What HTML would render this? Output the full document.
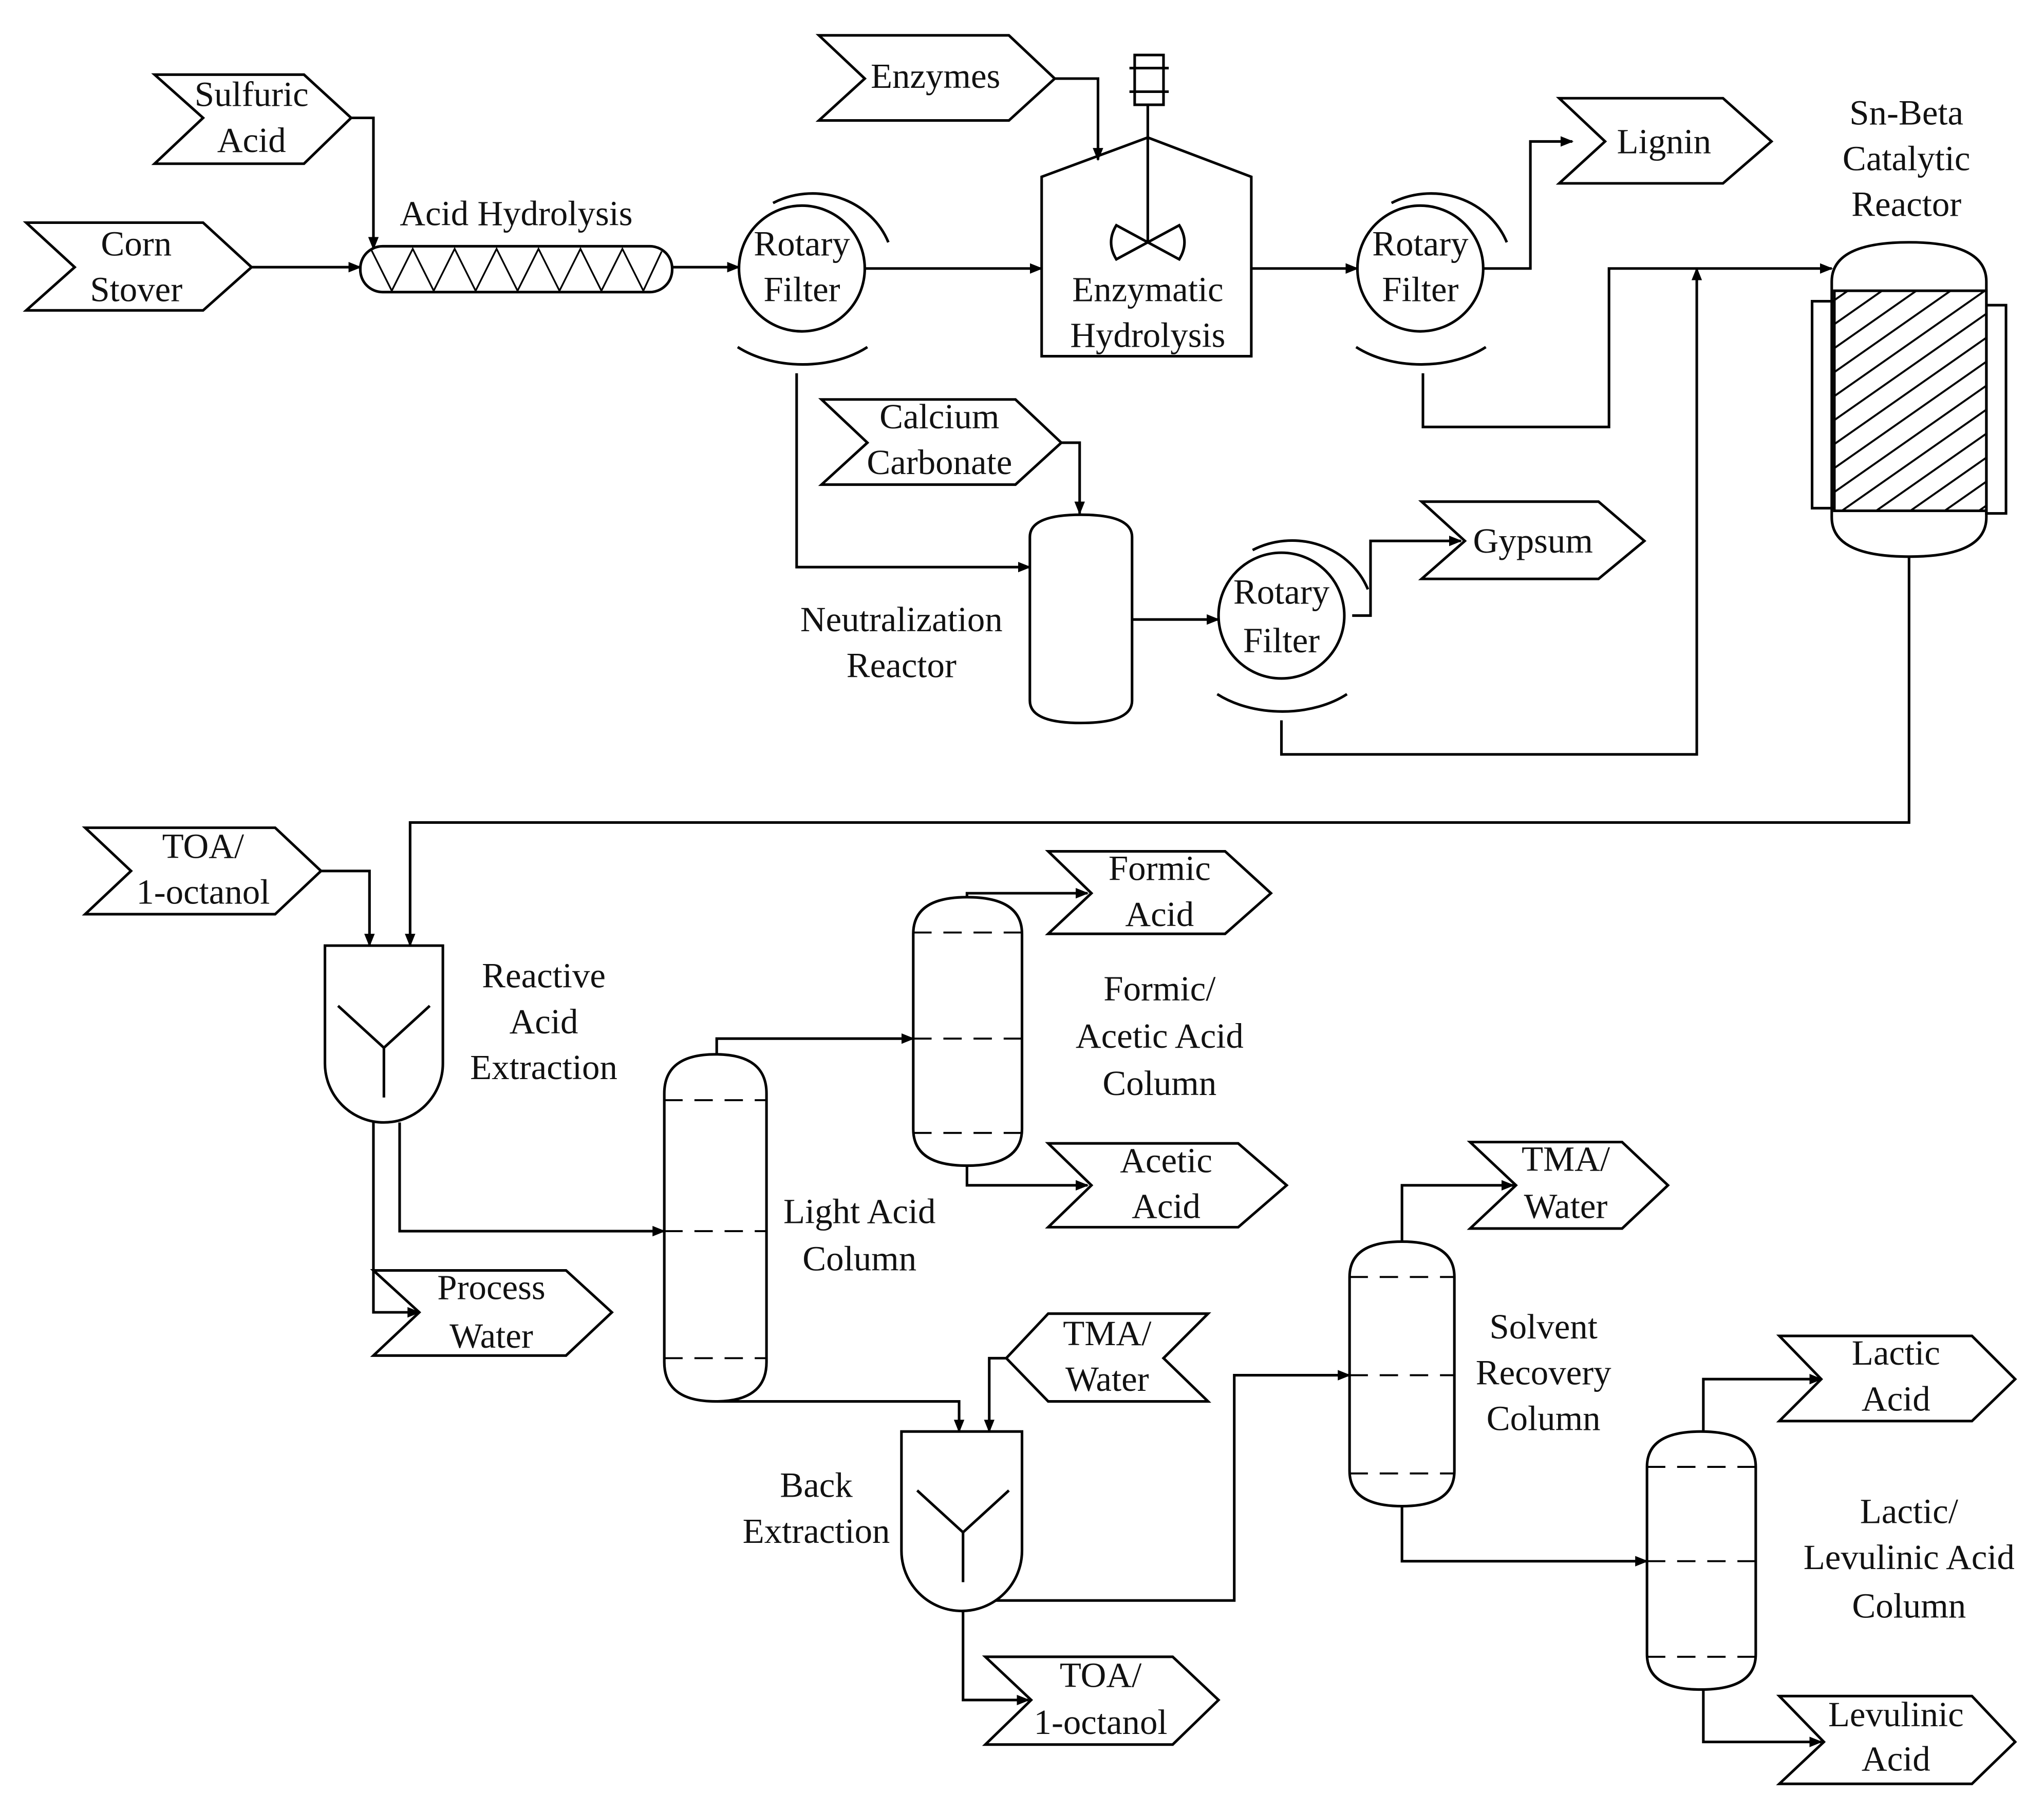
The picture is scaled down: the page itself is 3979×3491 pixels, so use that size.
<!DOCTYPE html>
<html><head><meta charset="utf-8"><style>
html,body{margin:0;padding:0;background:#fff;}
svg{display:block;}
text{font-family:"Liberation Serif",serif;font-size:27px;fill:#111;text-anchor:middle;}
</style></head><body>
<svg width="3979" height="3491" viewBox="0 0 1560 1369" preserveAspectRatio="none" xmlns="http://www.w3.org/2000/svg">
<defs>
<marker id="a" markerWidth="10" markerHeight="10" refX="9" refY="5" orient="auto" markerUnits="userSpaceOnUse">
<path d="M0,1 L10,5 L0,9 Z" fill="#000"/></marker>
<pattern id="h" patternUnits="userSpaceOnUse" width="15" height="15" patternTransform="rotate(-35)">
<rect width="15" height="15" fill="#fff"/><line x1="0" y1="0" x2="15" y2="0" stroke="#000" stroke-width="3"/></pattern>
</defs>
<g fill="none" stroke="#000" stroke-width="2">
<!-- chevrons -->
<polygon points="20,170 155,170 192,204 155,237 20,237 57,204"/>
<polygon points="118,57 232,57 268,90 232,125 118,125 155,90"/>
<polygon points="625,27 770,27 805,60 770,92 625,92 660,60"/>
<polygon points="1190,75 1315,75 1352,108 1315,140 1190,140 1225,108"/>
<polygon points="627,305 775,305 810,338 775,370 627,370 662,338"/>
<polygon points="1085,383 1220,383 1255,413 1220,442 1085,442 1118,413"/>
<polygon points="65,632 210,632 245,665 210,698 65,698 100,665"/>
<polygon points="285,970 432,970 467,1002 432,1035 285,1035 320,1002"/>
<polygon points="800,650 935,650 970,682 935,713 800,713 833,682"/>
<polygon points="800,873 945,873 982,905 945,937 800,937 833,905"/>
<polygon points="800,1003 922,1003 888,1037 922,1070 800,1070 768,1037"/>
<polygon points="752,1265 895,1265 930,1298 895,1332 752,1332 787,1298"/>
<polygon points="1122,872 1238,872 1273,905 1238,938 1122,938 1157,905"/>
<polygon points="1358,1020 1505,1020 1538,1053 1505,1085 1358,1085 1390,1053"/>
<polygon points="1358,1295 1505,1295 1538,1330 1505,1362 1358,1362 1392,1330"/>

<!-- acid hydrolysis screw -->
<rect x="275" y="188" width="238" height="35" rx="17" ry="17"/>
<polyline stroke-width="1.3" points="283,190 299,222 315,190 331,222 347,190 363,222 379,190 395,222 411,190 427,222 443,190 459,222 475,190 491,222 505,192"/>

<!-- rotary filters -->
<circle cx="612" cy="205" r="48"/>
<path d="M590,155 A62,58 0 0 1 678,185"/>
<path d="M563,265 A70,45 0 0 0 662,265"/>
<circle cx="1084" cy="205" r="48"/>
<path d="M1062,155 A62,58 0 0 1 1150,185"/>
<path d="M1035,265 A70,45 0 0 0 1134,265"/>
<circle cx="978" cy="470" r="48"/>
<path d="M956,420 A62,58 0 0 1 1044,450"/>
<path d="M929,530 A70,45 0 0 0 1028,530"/>

<!-- enzymatic tank -->
<polygon points="795,135 876,105 955,135 955,272 795,272"/>
<line x1="876" y1="80" x2="876" y2="185"/>
<rect x="866" y="42" width="22" height="38"/>
<line x1="862" y1="52" x2="892" y2="52"/><line x1="862" y1="70" x2="892" y2="70"/>
<path d="M876,185 L852,172 Q844,185 852,198 Z M876,185 L900,172 Q908,185 900,198 Z"/>

<!-- neutralization reactor -->
<path d="M786,410 Q786,393 825,393 Q864,393 864,410 L864,535 Q864,552 825,552 Q786,552 786,535 Z"/>

<!-- Sn-Beta reactor -->
<rect x="1383" y="230" width="17" height="158"/>
<rect x="1516" y="233" width="15" height="159"/>
<path d="M1398,222 L1398,215 Q1398,185 1457,185 Q1516,185 1516,215 L1516,395 Q1516,425 1457,425 Q1398,425 1398,395 Z"/>
<rect x="1400" y="222" width="116" height="168" fill="url(#h)" stroke-width="2"/>

<!-- extractors -->
<path d="M248,722 L338,722 L338,812 A45,45 0 0 1 248,812 Z"/>
<path d="M293,800 L258,768 M293,800 L328,768 M293,800 L293,838"/>
<path d="M688,1093 L780,1093 L780,1184 A46,46 0 0 1 688,1184 Z"/>
<path d="M735,1170 L700,1138 M735,1170 L770,1138 M735,1170 L735,1208"/>

<!-- columns -->
<path d="M507,835 Q507,805 546,805 Q585,805 585,835 L585,1040 Q585,1070 546,1070 Q507,1070 507,1040 Z"/>
<path d="M697,713 Q697,685 738,685 Q780,685 780,713 L780,862 Q780,890 738,890 Q697,890 697,862 Z"/>
<path d="M1030,975 Q1030,948 1070,948 Q1110,948 1110,975 L1110,1123 Q1110,1150 1070,1150 Q1030,1150 1030,1123 Z"/>
<path d="M1257,1120 Q1257,1093 1298,1093 Q1340,1093 1340,1120 L1340,1263 Q1340,1290 1298,1290 Q1257,1290 1257,1263 Z"/>
<g stroke-width="1.5" stroke-dasharray="14,9">
<line x1="507" y1="840" x2="585" y2="840"/><line x1="507" y1="940" x2="585" y2="940"/><line x1="507" y1="1037" x2="585" y2="1037"/>
<line x1="697" y1="712" x2="780" y2="712"/><line x1="697" y1="793" x2="780" y2="793"/><line x1="697" y1="865" x2="780" y2="865"/>
<line x1="1030" y1="975" x2="1110" y2="975"/><line x1="1030" y1="1050" x2="1110" y2="1050"/><line x1="1030" y1="1125" x2="1110" y2="1125"/>
<line x1="1257" y1="1120" x2="1340" y2="1120"/><line x1="1257" y1="1192" x2="1340" y2="1192"/><line x1="1257" y1="1265" x2="1340" y2="1265"/>
</g>

<!-- streams -->
<g marker-end="url(#a)">
<polyline points="192,204 275,204"/>
<polyline points="268,90 285,90 285,190"/>
<polyline points="513,204 564,204"/>
<polyline points="805,60 838,60 838,122"/>
<polyline points="660,205 795,205"/>
<polyline points="955,205 1036,205"/>
<polyline points="1132,205 1168,205 1168,108 1200,108"/>
<polyline points="1086,285 1086,326 1228,326 1228,205 1398,205"/>
<polyline points="978,550 978,576 1295,576 1295,205"/>
<polyline points="608,285 608,433 786,433"/>
<polyline points="810,338 824,338 824,392"/>
<polyline points="864,473 930,473"/>
<polyline points="1032,470 1046,470 1046,413 1115,413"/>
<polyline points="1457,425 1457,628 313,628 313,722"/>
<polyline points="245,665 282,665 282,722"/>
<polyline points="285,857 285,1002 320,1002"/>
<polyline points="305,857 305,940 507,940"/>
<polyline points="547,805 547,793 697,793"/>
<polyline points="738,685 738,682 830,682"/>
<polyline points="738,890 738,905 830,905"/>
<polyline points="547,1070 732,1070 732,1093"/>
<polyline points="768,1037 755,1037 755,1093"/>
<polyline points="735,1230 735,1298 785,1298"/>
<polyline points="760,1222 942,1222 942,1050 1030,1050"/>
<polyline points="1070,948 1070,905 1155,905"/>
<polyline points="1070,1150 1070,1192 1257,1192"/>
<polyline points="1300,1093 1300,1053 1390,1053"/>
<polyline points="1300,1290 1300,1330 1390,1330"/>
</g>
</g>

<!-- labels -->
<text x="104" y="195">Corn</text><text x="104" y="230">Stover</text>
<text x="192" y="81">Sulfuric</text><text x="192" y="116">Acid</text>
<text x="394" y="172">Acid Hydrolysis</text>
<text x="612" y="195">Rotary</text><text x="612" y="230">Filter</text>
<text x="714" y="67">Enzymes</text>
<text x="876" y="230">Enzymatic</text><text x="876" y="265">Hydrolysis</text>
<text x="1084" y="195">Rotary</text><text x="1084" y="230">Filter</text>
<text x="1270" y="117">Lignin</text>
<text x="1455" y="95">Sn-Beta</text><text x="1455" y="130">Catalytic</text><text x="1455" y="165">Reactor</text>
<text x="717" y="327">Calcium</text><text x="717" y="362">Carbonate</text>
<text x="688" y="482">Neutralization</text><text x="688" y="517">Reactor</text>
<text x="978" y="461">Rotary</text><text x="978" y="498">Filter</text>
<text x="1170" y="422">Gypsum</text>
<text x="155" y="655">TOA/</text><text x="155" y="690">1-octanol</text>
<text x="415" y="754">Reactive</text><text x="415" y="789">Acid</text><text x="415" y="824">Extraction</text>
<text x="375" y="992">Process</text><text x="375" y="1029">Water</text>
<text x="656" y="934">Light Acid</text><text x="656" y="970">Column</text>
<text x="885" y="672">Formic</text><text x="885" y="707">Acid</text>
<text x="885" y="764">Formic/</text><text x="885" y="800">Acetic Acid</text><text x="885" y="836">Column</text>
<text x="890" y="895">Acetic</text><text x="890" y="930">Acid</text>
<text x="845" y="1027">TMA/</text><text x="845" y="1062">Water</text>
<text x="623" y="1143">Back</text><text x="623" y="1178">Extraction</text>
<text x="840" y="1288">TOA/</text><text x="840" y="1324">1-octanol</text>
<text x="1195" y="894">TMA/</text><text x="1195" y="930">Water</text>
<text x="1178" y="1022">Solvent</text><text x="1178" y="1057">Recovery</text><text x="1178" y="1092">Column</text>
<text x="1447" y="1042">Lactic</text><text x="1447" y="1077">Acid</text>
<text x="1457" y="1163">Lactic/</text><text x="1457" y="1198">Levulinic Acid</text><text x="1457" y="1235">Column</text>
<text x="1447" y="1318">Levulinic</text><text x="1447" y="1352">Acid</text>
</svg>
</body></html>
